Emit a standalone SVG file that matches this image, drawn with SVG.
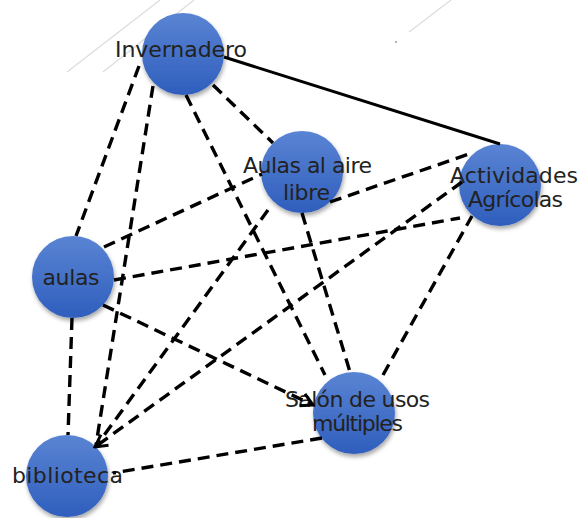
<svg xmlns="http://www.w3.org/2000/svg" width="585" height="518" viewBox="0 0 585 518">
  <defs>
    <linearGradient id="blueGrad" x1="0" y1="0" x2="0" y2="1">
      <stop offset="0" stop-color="#5a84d3"/>
      <stop offset="1" stop-color="#2f5ebd"/>
    </linearGradient>
    <filter id="shadow" x="-30%" y="-30%" width="160%" height="170%">
      <feDropShadow dx="1" dy="3" stdDeviation="2" flood-color="#000" flood-opacity="0.35"/>
    </filter>
    <marker id="openArrow" markerUnits="userSpaceOnUse" markerWidth="16" markerHeight="16" viewBox="0 0 16 16" refX="14" refY="8" orient="auto">
      <path d="M2,1.5 L14,8 L2,14.5" fill="none" stroke="#000" stroke-width="3" stroke-dasharray="none" stroke-linejoin="miter"/>
    </marker>
    <style>
      .node { fill: url(#blueGrad); filter: url(#shadow); }
      .lbl { font-family: "DejaVu Sans", "Liberation Sans", sans-serif; font-size: 22px; fill: #222; text-anchor: middle; }
      .dash { fill: none; stroke: #000; stroke-width: 3.4; stroke-dasharray: 12 7; }
      .solid { fill: none; stroke: #000; stroke-width: 3; }
      .bg { stroke: #dcdcdc; stroke-width: 1.2; fill: none; }
    </style>
  </defs>
  <rect width="585" height="518" fill="#fff"/>
  <g id="background">
    <path class="bg" d="M67,72 L160,0"/>
    <path class="bg" d="M103,72 L194,0"/>
    <path class="bg" d="M409,32 L451,0"/>
    <circle cx="396" cy="42" r="1" fill="#999"/>
  </g>
  <g id="node-invernadero">
    <circle class="node" cx="183" cy="54" r="41"/>
    <text class="lbl" x="181" y="57" textLength="132">Invernadero</text>
  </g>
  <g id="node-aulas-aire-libre">
    <circle class="node" cx="302" cy="172" r="41"/>
    <text class="lbl" x="307.5" y="173" textLength="129">Aulas al aire</text>
    <text class="lbl" x="306.5" y="200" textLength="47">libre</text>
  </g>
  <g id="node-actividades">
    <circle class="node" cx="500" cy="185" r="41"/>
    <text class="lbl" x="514" y="183" textLength="128">Actividades</text>
    <text class="lbl" x="515.5" y="207" textLength="95">Agrícolas</text>
  </g>
  <g id="node-aulas">
    <circle class="node" cx="73" cy="277" r="41"/>
    <text class="lbl" x="71" y="285" textLength="57">aulas</text>
  </g>
  <g id="node-salon">
    <circle class="node" cx="354" cy="413" r="41"/>
    <text class="lbl" x="357.5" y="407" textLength="145">Salón de usos</text>
    <text class="lbl" x="357.5" y="431" textLength="91">múltiples</text>
  </g>
  <g id="node-biblioteca">
    <circle class="node" cx="67" cy="476" r="41"/>
    <text class="lbl" x="67.5" y="483" textLength="111">biblioteca</text>
  </g>
  <g id="connectors">
    <path class="solid" d="M224,57 L500,144"/>
    <path class="dash" d="M139,66 L76,236"/>
    <path class="dash" d="M153,86 L96,445"/>
    <path class="dash" d="M213,85 L273,143"/>
    <path class="dash" d="M186,95 L325,375"/>
    <path class="dash" d="M302,213 L350,372"/>
    <path class="dash" d="M383,375 L472,216"/>
    <path class="dash" d="M104,247 L262,174"/>
    <path class="dash" d="M114,280 L460,218"/>
    <path class="dash" d="M268,210 L97,445"/>
    <path class="dash" d="M330,202 L472,153"/>
    <path class="dash" d="M72,318 L68,435"/>
    <path class="dash" d="M322,438 L113,473"/>
    <path class="dash" d="M103,305 L313,405" marker-end="url(#openArrow)"/>
    <path class="dash" d="M462,182 L95,447" marker-end="url(#openArrow)"/>
  </g>
</svg>
